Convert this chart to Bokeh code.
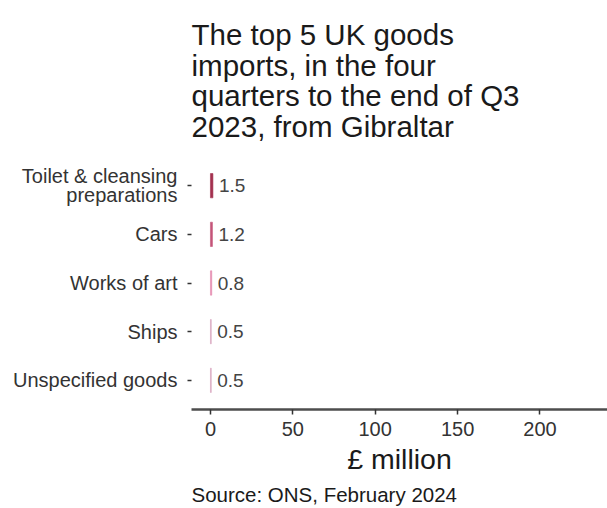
from bokeh.plotting import figure
from bokeh.models import ColumnDataSource, FactorRange, Range1d, Title, FixedTicker
from bokeh.embed import file_html
from bokeh.resources import INLINE

categories = ["Unspecified goods", "Ships", "Works of art", "Cars", "Toilet & cleansing\npreparations"]
values = [0.5, 0.5, 0.8, 1.2, 1.5]
labels = ["0.5", "0.5", "0.8", "1.2", "1.5"]
x_ticks = [0, 50, 100, 150, 200]
source_note = "Source: ONS, February 2024"

colors = ["#d9a6c0", "#d9a6c0", "#e68cb0", "#c4557a", "#a3304f"]

FONT = "Liberation Sans"

src = ColumnDataSource(dict(cat=categories, val=values, lab=labels, col=colors))

p = figure(width=607, height=508, output_backend="svg", toolbar_location=None,
           y_range=FactorRange(factors=categories, range_padding=0.04),
           x_range=Range1d(-11.5, 241),
           min_border_left=191, min_border_right=0, min_border_top=156, min_border_bottom=98)

p.hbar(y="cat", left=0, right="val", height=0.5, fill_color="col", line_color="col",
       line_width=0.6, source=src)
p.text(x="val", y="cat", text="lab", source=src, x_offset=6, text_baseline="middle",
       text_font_size="19px", text_color="#444444", text_font={"value": FONT})

p.title.text = "The top 5 UK goods\nimports, in the four\nquarters to the end of Q3\n2023, from Gibraltar"
p.title.text_font = FONT
p.title.text_font_size = "29.5px"
p.title.text_font_style = "normal"
p.title.text_color = "#1a1a1a"
p.title.align = "left"
p.title.text_line_height = 0.93
p.title.standoff = 27

p.add_layout(Title(text=source_note, align="left", text_font=FONT,
                   text_font_size="20.5px", text_font_style="normal", text_color="#1a1a1a",
                   standoff=6), "below")

p.xgrid.visible = False
p.ygrid.visible = False
p.outline_line_color = None

p.xaxis.ticker = FixedTicker(ticks=x_ticks)
p.xaxis.axis_label = "£ million"
p.xaxis.axis_label_text_font = FONT
p.xaxis.axis_label_text_font_size = "28.5px"
p.xaxis.axis_label_text_font_style = "normal"
p.xaxis.axis_label_text_color = "#1a1a1a"
p.xaxis.axis_label_standoff = 4
p.xaxis.axis_line_width = 2.5
p.xaxis.axis_line_color = "#4d4d4d"
p.xaxis.major_tick_line_color = "#333333"
p.xaxis.major_tick_line_width = 1.5
p.xaxis.major_tick_in = 0
p.xaxis.major_tick_out = 5
p.xaxis.minor_tick_line_color = None
p.xaxis.major_label_text_font = FONT
p.xaxis.major_label_text_font_size = "20px"
p.xaxis.major_label_text_color = "#333333"
p.xaxis.major_label_standoff = 7

p.yaxis.axis_line_color = None
p.yaxis.major_tick_line_color = "#333333"
p.yaxis.major_tick_line_width = 1.5
p.yaxis.major_tick_in = 0
p.yaxis.major_tick_out = 4
p.yaxis.major_label_text_font = FONT
p.yaxis.major_label_text_font_size = "20px"
p.yaxis.major_label_text_color = "#333333"
p.yaxis.major_label_text_line_height = 0.87
p.yaxis.major_label_standoff = 10

open("out.html", "w").write(file_html(p, INLINE))
